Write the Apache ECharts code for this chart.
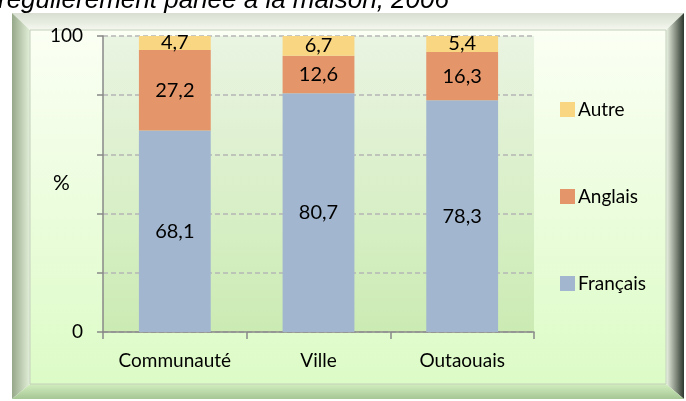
<!DOCTYPE html>
<html lang="fr">
<head>
    <meta charset="UTF-8">
    <title>Langue parlée à la maison</title>
    <script src="https://cdn.jsdelivr.net/npm/echarts@6/dist/echarts.min.js"></script>
    <style>
        html, body { margin: 0; padding: 0; background: #fff; }
        #main { width: 686px; height: 401px; }
    </style>
</head>
<body>
    <div id="main"></div>
    <script>
        // catégories et valeurs (%)
        var categories = ['Communauté', 'Ville', 'Outaouais'];
        var francais = [68.1, 80.7, 78.3];
        var anglais = [27.2, 12.6, 16.3];
        var autre = [4.7, 6.7, 5.4];
        var yTicks = [0, 100];

        var FONT = 'Lato';

        function fmt(p) {
            return p.value.toFixed(1).replace('.', ',');
        }

        function grad(x, y, x2, y2, c1, c2) {
            return new echarts.graphic.LinearGradient(x, y, x2, y2, [
                { offset: 0, color: c1 }, { offset: 1, color: c2 }
            ]);
        }

        // cadre biseauté
        var x0 = 12, y0 = 13, x1 = 684, y1 = 399;
        var ix0 = 30, iy0 = 30, ix1 = 666, iy1 = 384;
        var frame = [
            { type: 'polygon', z: -10, shape: { points: [[x0, y0], [x1, y0], [ix1, iy0], [ix0, iy0]] },
              style: { fill: grad(0, 0, 0, 1, '#d8ded2', '#f4f8ee') } },
            { type: 'polygon', z: -10, shape: { points: [[x0, y0], [ix0, iy0], [ix0, iy1], [x0, y1]] },
              style: { fill: grad(0, 0, 1, 0, '#95a888', '#e4f0da') } },
            { type: 'polygon', z: -10, shape: { points: [[x1, y0], [x1, y1], [ix1, iy1], [ix1, iy0]] },
              style: { fill: grad(0, 0, 1, 0, '#eef6e6', '#2d362c') } },
            { type: 'polygon', z: -10, shape: { points: [[x0, y1], [x1, y1], [ix1, iy1], [ix0, iy1]] },
              style: { fill: grad(0, 0, 0, 1, '#d2eebe', '#a6c696') } },
            { type: 'rect', z: -9, shape: { x: ix0, y: iy0, width: ix1 - ix0, height: iy1 - iy0 },
              style: { fill: grad(0, 0, 0, 1, '#fbfff4', '#dcfbc6'), stroke: '#c4d0bc', lineWidth: 1 } },
            // titre (coupé en haut)
            { type: 'text', z: 5, left: -2, top: -12,
              style: { text: 'régulièrement parlée à la maison, 2006', font: 'italic 26px "Liberation Sans"', fill: '#000' } },
            // nom de l'axe
            { type: 'text', z: 5, left: 53, top: 173,
              style: { text: '%', font: '21px ' + FONT, fill: '#000' } }
        ];

        var labelStyle = { show: true, position: 'inside', color: '#000', fontFamily: FONT, fontSize: 20, formatter: fmt };

        var option = {
            animation: false,
            backgroundColor: '#fff',
            graphic: frame,
            grid: {
                left: 103, right: 152, top: 36, bottom: 69,
                show: true, borderWidth: 0,
                backgroundColor: grad(0, 0, 0, 1, '#eaf4e2', '#cbebb3')
            },
            legend: {
                orient: 'vertical',
                left: 555, top: 95,
                itemWidth: 15, itemHeight: 15, itemGap: 68,
                icon: 'rect',
                textStyle: { fontFamily: FONT, fontSize: 19, color: '#000', padding: [0, 0, 0, -2] },
                data: ['Autre', 'Anglais', 'Français']
            },
            xAxis: {
                type: 'category',
                data: categories,
                axisLine: { lineStyle: { color: '#888', width: 1.5 } },
                axisTick: { show: true, length: 7, lineStyle: { color: '#888', width: 1.5 } },
                axisLabel: { interval: 0, color: '#000', fontFamily: FONT, fontSize: 19, margin: 19 }
            },
            yAxis: {
                type: 'value',
                min: 0, max: 100, interval: 20,
                axisLine: { show: true, lineStyle: { color: '#888', width: 1.5 } },
                axisTick: { show: true, length: 6, lineStyle: { color: '#888', width: 1.5 } },
                axisLabel: {
                    color: '#000', fontFamily: FONT, fontSize: 19, margin: 20,
                    formatter: function (v) { return yTicks.indexOf(v) >= 0 ? String(v) : ''; }
                },
                splitLine: { lineStyle: { color: '#b5b5b5', type: [5, 3], width: 1.5 } }
            },
            series: [
                { name: 'Français', type: 'bar', stack: 'tot', barWidth: '50%', data: francais,
                  itemStyle: { color: '#a2b7cf' }, label: labelStyle },
                { name: 'Anglais', type: 'bar', stack: 'tot', barWidth: '50%', data: anglais,
                  itemStyle: { color: '#e4966a' }, label: labelStyle },
                { name: 'Autre', type: 'bar', stack: 'tot', barWidth: '50%', data: autre,
                  itemStyle: { color: '#f9d682' }, label: labelStyle }
            ]
        };

        var myChart = echarts.init(document.getElementById('main'));
        myChart.setOption(option);
    </script>
</body>
</html>
